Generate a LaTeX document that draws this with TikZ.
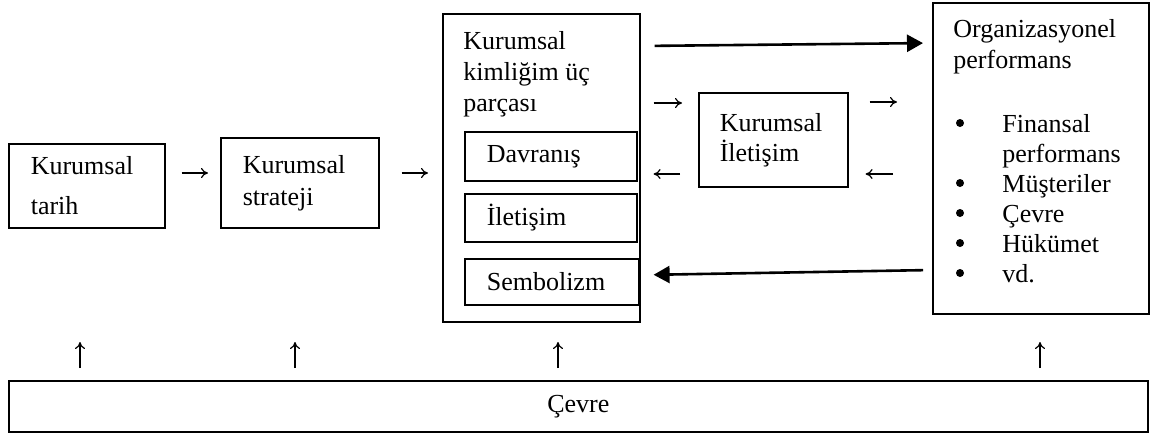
\documentclass[tikz,border=0pt]{standalone}
\usepackage{fontspec}
\setmainfont{Liberation Serif}
\usetikzlibrary{arrows.meta,calc}

\begin{document}
\begin{tikzpicture}[x=0.5pt,y=-0.5pt]
			\tikzstyle{every node}=[font=\fontsize{13}{15.5}\selectfont]
			\tikzstyle{kutu}=[draw, line width=0.8pt, anchor=north west, inner ysep=0pt, inner xsep=11pt, align=left]
			\tikzstyle{yazi}=[anchor=north west, inner sep=0pt, align=left]
			\tikzstyle{ok}=[line width=0.6pt, -{To[length=3.5pt,width=5pt]}]
			\tikzstyle{kalinok}=[line width=1.3pt, -{Triangle[length=8pt,width=8.5pt]}]
			
			\useasboundingbox (0,0) rectangle (1160,435);
			
			% sol kutular
			\node[kutu, text width=56pt, minimum height=42pt] (tarih) at (8,143) {Kurumsal\\[4.5pt]tarih};
			\node[kutu, text width=57pt, minimum height=45pt] (strateji) at (220,137) {Kurumsal\\[0.5pt]strateji};
			
			% kimlik
			\node[kutu, minimum width=98.5pt, minimum height=154pt] (kimlik) at (442,13) {};
			\node[yazi] (kimlikyazi) at (463,31) {Kurumsal\\kimliğim üç\\parçası};
			\node[kutu, text width=64pt, minimum height=24.5pt] (davranis) at (464,131) {Davranış};
			\node[kutu, text width=64pt, minimum height=24pt] (iletisim) at (464,193) {İletişim};
			\node[kutu, text width=65pt, minimum height=23pt] (sembolizm) at (464,258) {Sembolizm};
			
			\node[kutu, inner xsep=10.5pt, text width=53.5pt, minimum height=47pt] (kiletisim) at (698,92) {Kurumsal\\[-0.5pt]İletişim};
			
			% performans
			\node[kutu, minimum width=108pt, minimum height=155.5pt] (org) at (932,2) {};
			\node[yazi] (orgyazi) at (953,19) {Organizasyonel\\performans};
			\node[anchor=base west, inner sep=0pt] (orgliste) at (1002,132) {\fontsize{13}{15}\selectfont
				\begin{tabular}[t]{@{}l@{}}
				Finansal\\
				performans\\
				Müşteriler\\
				Çevre\\
				Hükümet\\
				vd.
				\end{tabular}};
			\foreach \s in {0,2,3,4,5}
				\fill ($(orgliste.base west)+(-42,30*\s-9)$) circle (2pt);
			
			\node[kutu, minimum width=569.5pt, minimum height=25.5pt] (cevre) at (8,380) {Çevre};
			
			% oklar
			\draw[ok, shorten <=8pt, shorten >=6pt] (tarih.east |- 0,173) -- (strateji.west |- 0,173);
			\draw[ok, shorten <=11pt, shorten >=7pt] (strateji.east |- 0,173) -- (kimlik.west |- 0,173);
			\draw[ok, shorten <=6.5pt, shorten >=8pt] (kimlik.east |- 0,103) -- (kiletisim.west |- 0,103);
			\draw[ok, shorten <=9pt, shorten >=6.5pt] (kiletisim.west |- 0,174) -- (kimlik.east |- 0,174);
			\draw[ok, shorten <=10.5pt, shorten >=17.5pt] (kiletisim.east |- 0,102) -- (org.west |- 0,102);
			\draw[ok, shorten <=19.5pt, shorten >=8.5pt] (org.west |- 0,174) -- (kiletisim.east |- 0,174);
			\foreach \x in {80,295,558,1040}
				\draw[ok, shorten <=6pt] (cevre.north -| \x,0) -- ++(0,-38);
			
			\draw[kalinok, shorten <=7pt, shorten >=4.5pt] ($(kimlik.north east)+(0,33)$) -- ($(org.north west)+(0,41)$);
			\draw[kalinok, shorten <=4.5pt, shorten >=6.5pt] ($(org.north west)+(0,268)$) -- ($(kimlik.north east)+(0,262)$);
			
\end{tikzpicture}
\end{document}
